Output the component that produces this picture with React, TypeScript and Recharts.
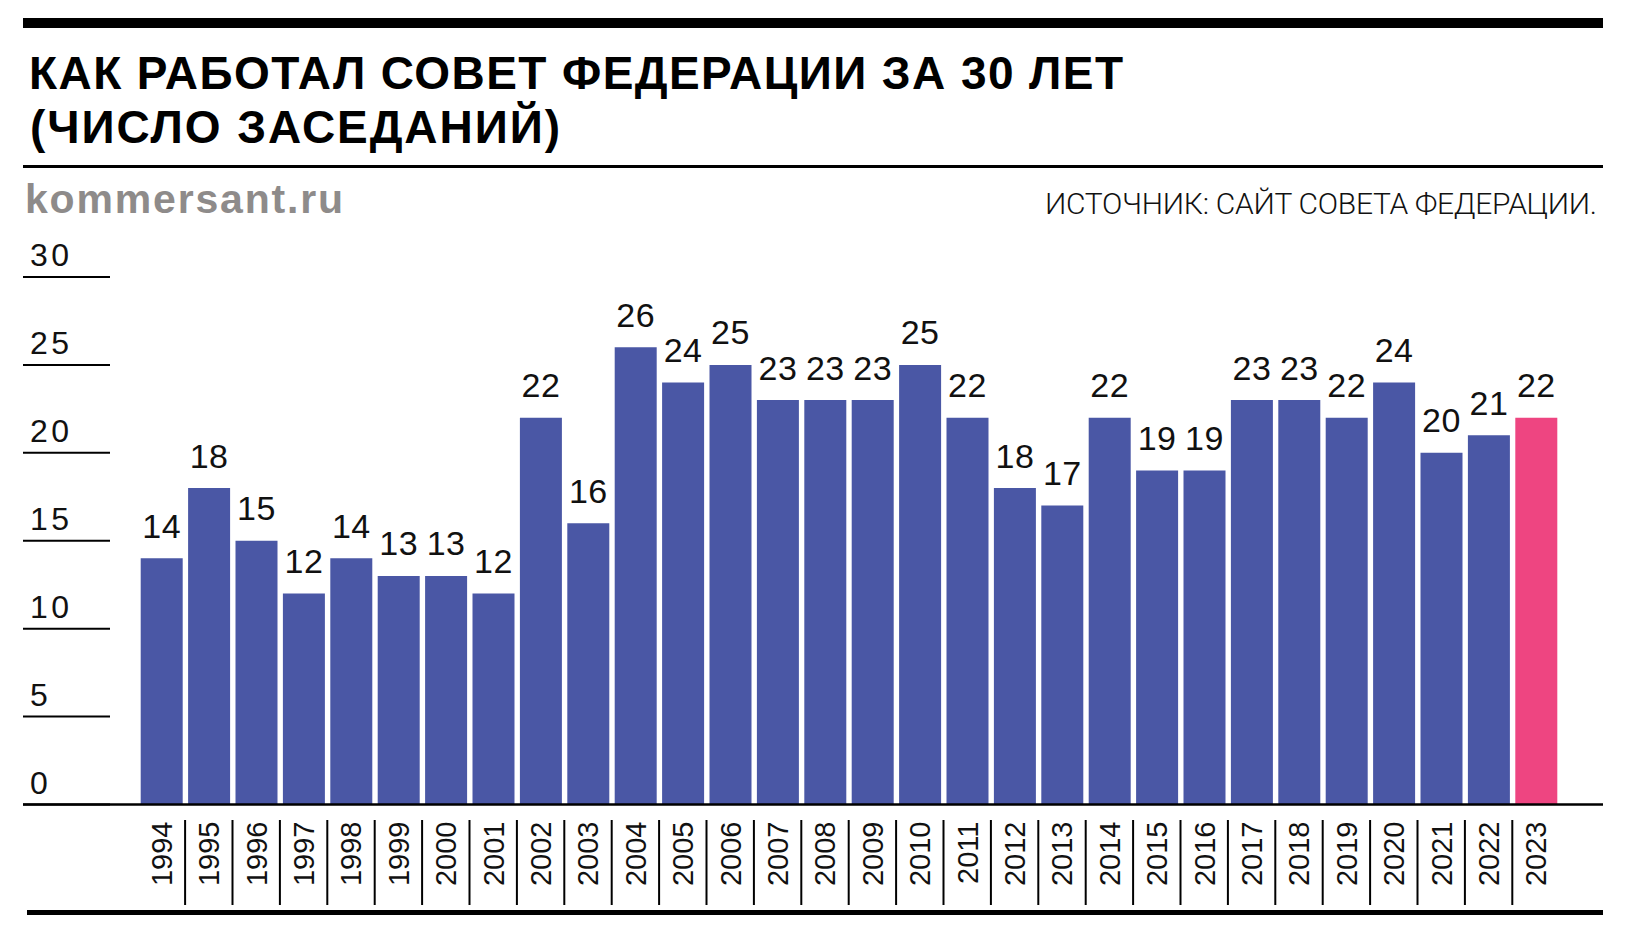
import React from 'react';
import { BarChart, Bar, XAxis, YAxis, Cell, LabelList } from 'recharts';

const years = ['1994','1995','1996','1997','1998','1999','2000','2001','2002','2003','2004','2005','2006','2007','2008','2009','2010','2011','2012','2013','2014','2015','2016','2017','2018','2019','2020','2021','2022','2023'];
const sessions = [14,18,15,12,14,13,13,12,22,16,26,24,25,23,23,23,25,22,18,17,22,19,19,23,23,22,24,20,21,22];
const highlightYear = '2023';
const yTicks = [0,5,10,15,20,25,30];
const title1 = 'КАК РАБОТАЛ СОВЕТ ФЕДЕРАЦИИ ЗА 30 ЛЕТ';
const title2 = '(ЧИСЛО ЗАСЕДАНИЙ)';
const siteLabel = 'kommersant.ru';
const sourceLabel = 'ИСТОЧНИК: САЙТ СОВЕТА ФЕДЕРАЦИИ.';

const BLUE = '#4A57A5';
const PINK = '#EE4581';
const FONT = '"Liberation Sans", Arial, Helvetica, sans-serif';

const W = 1634;
const H = 940;
const XH = 110;
const YW = 1;
const M = { top: 277, right: 31, bottom: 25.5, left: 23 - YW };
const PAD = { left: 114.7, right: 43.3 };
const PLOT_LEFT = M.left + YW;
const PITCH = (W - PLOT_LEFT - M.right - PAD.left - PAD.right) / years.length;
const AXIS_Y = H - M.bottom - XH;

const data = years.map((y, i) => ({ year: y, value: sessions[i] }));

const YTick = (props: any) => {
  const { y, payload } = props;
  return (
    <g>
      <line x1={PLOT_LEFT} x2={110} y1={y} y2={y} stroke="#000" strokeWidth={2} />
      <text x={30} y={y - 11} fontSize={32} letterSpacing={3.5} fontFamily={FONT} fill="#111">{payload.value}</text>
    </g>
  );
};

const XTick = (props: any) => {
  const { x, payload, index } = props;
  const top = AXIS_Y + 17;
  return (
    <g>
      {index > 0 && (
        <line x1={x - PITCH / 2} x2={x - PITCH / 2} y1={AXIS_Y + 15.5} y2={AXIS_Y + 100.5} stroke="#000" strokeWidth={2} />
      )}
      <text
        x={x}
        y={top}
        dy="0.36em"
        textAnchor="end"
        transform={`rotate(-90 ${x} ${top})`}
        fontSize={29}
        fontFamily={FONT}
        fill="#111"
      >
        {payload.value}
      </text>
    </g>
  );
};

const ValueLabel = (props: any) => {
  const { x, y, width, value } = props;
  return (
    <text x={x + width / 2} y={y - 20.5} textAnchor="middle" fontSize={34} letterSpacing={0.5} fontFamily={FONT} fill="#111">
      {value}
    </text>
  );
};

export default function App() {
  return (
    <div style={{ position: 'absolute', left: 0, top: 0, width: W, height: H, background: '#fff' }}>
      <div style={{ position: 'absolute', left: 0, top: 0 }}>
        <BarChart width={W} height={H} data={data} margin={M}>
          <XAxis
            dataKey="year"
            height={XH}
            interval={0}
            tickLine={false}
            axisLine={{ stroke: '#000', strokeWidth: 2.5 }}
            padding={PAD}
            tick={<XTick />}
          />
          <YAxis
            width={YW}
            domain={[0, 30]}
            ticks={yTicks}
            interval={0}
            axisLine={false}
            tickLine={false}
            tick={<YTick />}
          />
          <Bar dataKey="value" barSize={42} isAnimationActive={false}>
            {data.map((d) => (
              <Cell key={d.year} fill={d.year === highlightYear ? PINK : BLUE} />
            ))}
            <LabelList dataKey="value" content={<ValueLabel />} />
          </Bar>
        </BarChart>
      </div>
      <svg width={W} height={H} style={{ position: 'absolute', left: 0, top: 0, pointerEvents: 'none' }}>
        <rect x={23} y={18} width={1580} height={10} fill="#000" />
        <text x={29} y={89} fontSize={46} fontWeight="bold" fontFamily={FONT} fill="#000" textLength={1094} lengthAdjust="spacing">{title1}</text>
        <text x={30} y={143} fontSize={46} fontWeight="bold" fontFamily={FONT} fill="#000" textLength={530} lengthAdjust="spacing">{title2}</text>
        <rect x={23} y={165} width={1580} height={3} fill="#000" />
        <text x={25} y={212.5} fontSize={41} fontWeight="bold" fontFamily={FONT} fill="#8e8b8a" textLength={318} lengthAdjust="spacing">{siteLabel}</text>
        <text x={1597} y={214} textAnchor="end" fontSize={30} fontWeight={300} fontFamily='Roboto, "Liberation Sans", sans-serif' fill="#111" textLength={552} lengthAdjust="spacing">{sourceLabel}</text>
        <rect x={27} y={910} width={1576} height={5} fill="#000" />
      </svg>
    </div>
  );
}
